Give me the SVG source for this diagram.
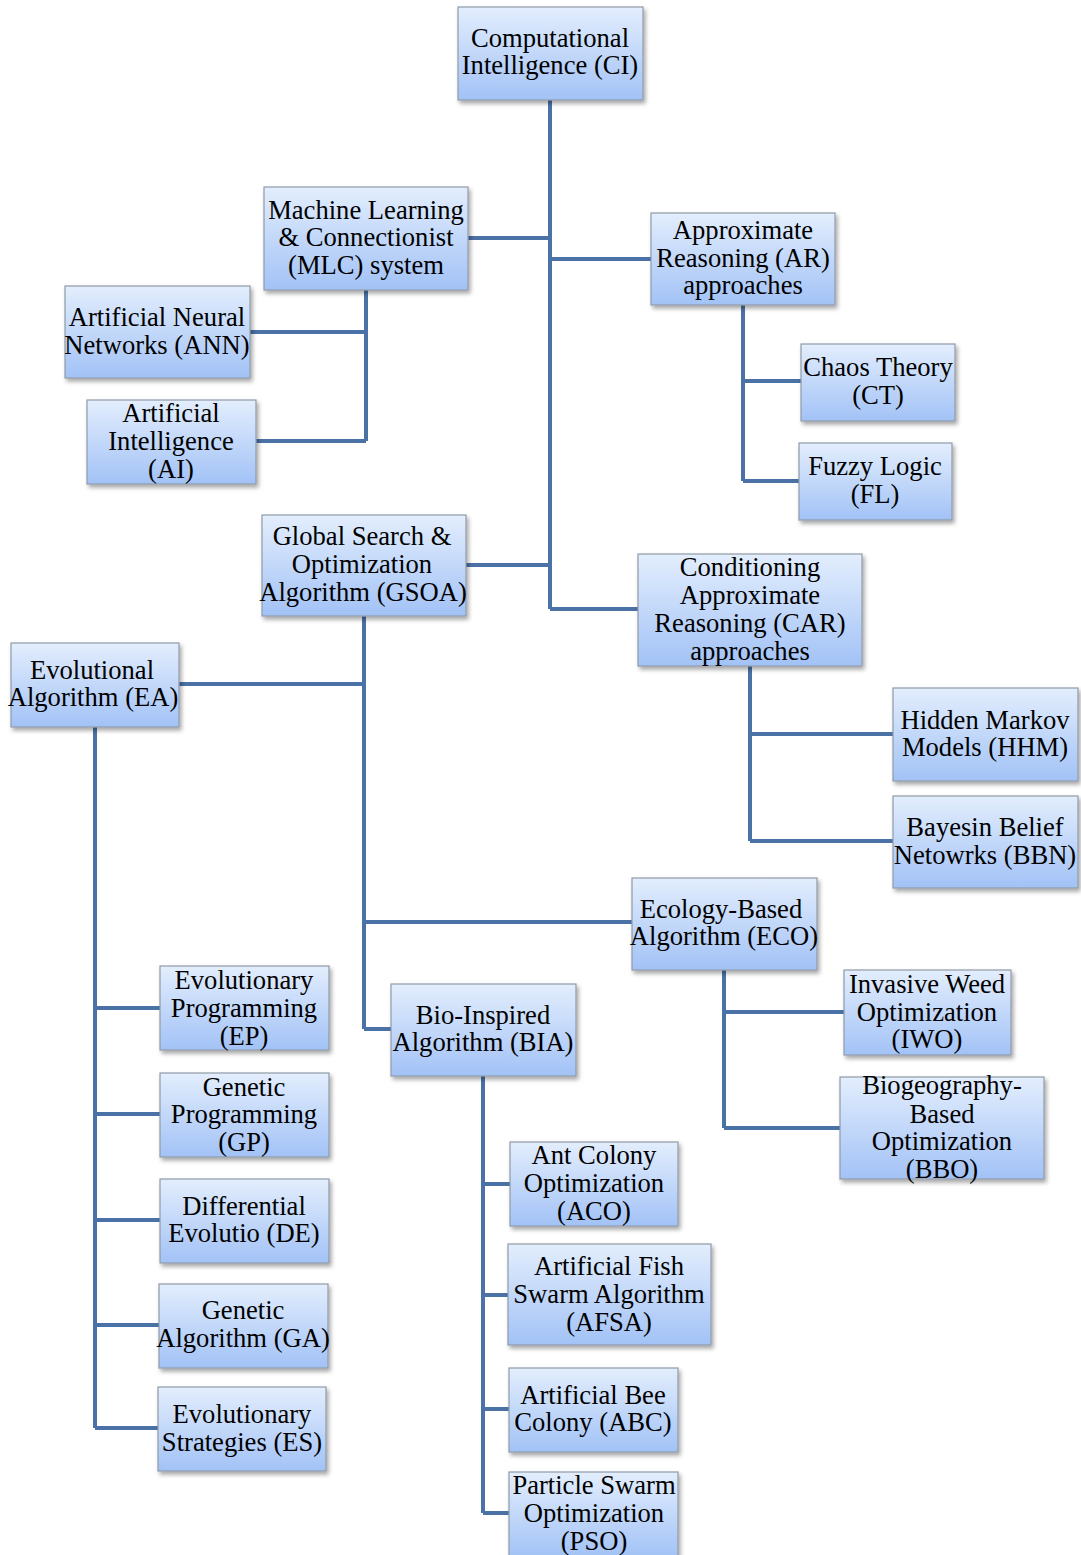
<svg xmlns="http://www.w3.org/2000/svg" width="1081" height="1555" viewBox="0 0 1081 1555">
<defs>
<linearGradient id="g" x1="0" y1="0" x2="0" y2="1">
<stop offset="0" stop-color="#e3eefd"/>
<stop offset="1" stop-color="#a2c2f6"/>
</linearGradient>
<filter id="sh" x="-10%" y="-10%" width="125%" height="130%">
<feDropShadow dx="2" dy="3" stdDeviation="2" flood-color="#000" flood-opacity="0.35"/>
</filter>
</defs>
<style>
.b{fill:url(#g);stroke:#8f9aa8;stroke-width:1.2;filter:url(#sh)}
.t{font-family:"Liberation Serif","Times New Roman",serif;font-size:26.6px;fill:#000;text-anchor:middle}
.c{fill:none;stroke:#4a72a6;stroke-width:4;stroke-linejoin:miter}
</style>
<rect width="1081" height="1555" fill="#fff"/>
<g id="connectors">
<path class="c" d="M550,100V609M468,238H550M550,259H651M466,565H550M550,609H638"/>
<path class="c" d="M366,290V441M250,332H366M256,441H366"/>
<path class="c" d="M743,305V481M743,381H801M743,481H799"/>
<path class="c" d="M750,666V841M750,734H893M750,841H893"/>
<path class="c" d="M364,616V1029M179,684H364M364,922H632M364,1029H391"/>
<path class="c" d="M95,727V1428M95,1008H160M95,1114H160M95,1220H160M95,1325H159M95,1428H158"/>
<path class="c" d="M724,970V1128M724,1012H844M724,1128H840"/>
<path class="c" d="M483,1076V1513M483,1184H510M483,1295H508M483,1409H509M483,1513H509"/>
</g>
<g id="CI"><rect class="b" x="458" y="7" width="185" height="93"/><text class="t" x="550" y="47">Computational</text><text class="t" x="550" y="74">Intelligence (CI)</text></g>
<g id="MLC"><rect class="b" x="264" y="187" width="204" height="103"/><text class="t" x="366" y="219">Machine Learning</text><text class="t" x="366" y="246">&amp; Connectionist</text><text class="t" x="366" y="274">(MLC) system</text></g>
<g id="AR"><rect class="b" x="651" y="213" width="184" height="92"/><text class="t" x="743" y="239">Approximate</text><text class="t" x="743" y="267">Reasoning (AR)</text><text class="t" x="743" y="294">approaches</text></g>
<g id="ANN"><rect class="b" x="65" y="286" width="185" height="92"/><text class="t" x="157" y="326">Artificial Neural</text><text class="t" x="157" y="354">Networks (ANN)</text></g>
<g id="AI"><rect class="b" x="87" y="400" width="169" height="84"/><text class="t" x="171" y="422">Artificial</text><text class="t" x="171" y="450">Intelligence</text><text class="t" x="171" y="478">(AI)</text></g>
<g id="CT"><rect class="b" x="801" y="344" width="154" height="77"/><text class="t" x="878" y="376">Chaos Theory</text><text class="t" x="878" y="404">(CT)</text></g>
<g id="FL"><rect class="b" x="799" y="443" width="153" height="77"/><text class="t" x="875" y="475">Fuzzy Logic</text><text class="t" x="875" y="503">(FL)</text></g>
<g id="GSOA"><rect class="b" x="262" y="515" width="204" height="101"/><text class="t" x="362" y="545">Global Search &amp;</text><text class="t" x="362" y="573">Optimization</text><text class="t" x="363" y="601">Algorithm (GSOA)</text></g>
<g id="CAR"><rect class="b" x="638" y="554" width="224" height="112"/><text class="t" x="750" y="576">Conditioning</text><text class="t" x="750" y="604">Approximate</text><text class="t" x="750" y="632">Reasoning (CAR)</text><text class="t" x="750" y="660">approaches</text></g>
<g id="EA"><rect class="b" x="11" y="643" width="168" height="84"/><text class="t" x="92" y="679">Evolutional</text><text class="t" x="93" y="706">Algorithm (EA)</text></g>
<g id="HHM"><rect class="b" x="893" y="688" width="185" height="93"/><text class="t" x="985" y="729">Hidden Markov</text><text class="t" x="985" y="756">Models (HHM)</text></g>
<g id="BBN"><rect class="b" x="893" y="796" width="185" height="92"/><text class="t" x="985" y="836">Bayesin Belief</text><text class="t" x="985" y="864">Netowrks (BBN)</text></g>
<g id="ECO"><rect class="b" x="632" y="878" width="185" height="92"/><text class="t" x="721" y="918">Ecology-Based</text><text class="t" x="724" y="945">Algorithm (ECO)</text></g>
<g id="EP"><rect class="b" x="160" y="966" width="169" height="84"/><text class="t" x="244" y="989">Evolutionary</text><text class="t" x="244" y="1017">Programming</text><text class="t" x="244" y="1045">(EP)</text></g>
<g id="BIA"><rect class="b" x="391" y="984" width="185" height="92"/><text class="t" x="483" y="1024">Bio-Inspired</text><text class="t" x="483" y="1051">Algorithm (BIA)</text></g>
<g id="IWO"><rect class="b" x="844" y="970" width="167" height="85"/><text class="t" x="927" y="993">Invasive Weed</text><text class="t" x="927" y="1021">Optimization</text><text class="t" x="927" y="1048">(IWO)</text></g>
<g id="GP"><rect class="b" x="160" y="1073" width="169" height="84"/><text class="t" x="244" y="1096">Genetic</text><text class="t" x="244" y="1123">Programming</text><text class="t" x="244" y="1151">(GP)</text></g>
<g id="BBO"><rect class="b" x="840" y="1077" width="204" height="102"/><text class="t" x="942" y="1094">Biogeography-</text><text class="t" x="942" y="1123">Based</text><text class="t" x="942" y="1150">Optimization</text><text class="t" x="942" y="1178">(BBO)</text></g>
<g id="ACO"><rect class="b" x="510" y="1142" width="168" height="84"/><text class="t" x="594" y="1164">Ant Colony</text><text class="t" x="594" y="1192">Optimization</text><text class="t" x="594" y="1220">(ACO)</text></g>
<g id="DE"><rect class="b" x="160" y="1179" width="169" height="84"/><text class="t" x="244" y="1215">Differential</text><text class="t" x="244" y="1242">Evolutio (DE)</text></g>
<g id="AFSA"><rect class="b" x="508" y="1244" width="203" height="101"/><text class="t" x="609" y="1275">Artificial Fish</text><text class="t" x="609" y="1303">Swarm Algorithm</text><text class="t" x="609" y="1331">(AFSA)</text></g>
<g id="GA"><rect class="b" x="159" y="1284" width="169" height="84"/><text class="t" x="243" y="1319">Genetic</text><text class="t" x="243" y="1347">Algorithm (GA)</text></g>
<g id="ABC"><rect class="b" x="509" y="1368" width="169" height="84"/><text class="t" x="593" y="1404">Artificial Bee</text><text class="t" x="593" y="1431">Colony (ABC)</text></g>
<g id="ES"><rect class="b" x="158" y="1387" width="168" height="84"/><text class="t" x="242" y="1423">Evolutionary</text><text class="t" x="242" y="1451">Strategies (ES)</text></g>
<g id="PSO"><rect class="b" x="509" y="1472" width="169" height="86"/><text class="t" x="594" y="1494">Particle Swarm</text><text class="t" x="594" y="1522">Optimization</text><text class="t" x="594" y="1550">(PSO)</text></g>
</svg>
